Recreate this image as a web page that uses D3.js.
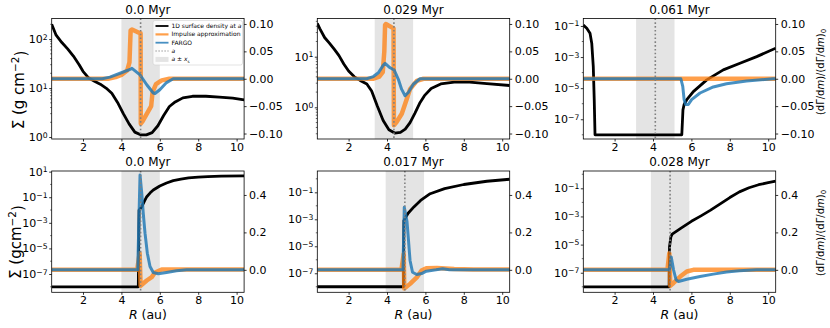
<!DOCTYPE html>
<html><head><meta charset="utf-8">
<script src="https://cdn.jsdelivr.net/npm/d3@7/dist/d3.min.js"></script>
<style>body{margin:0;background:#fff}svg{display:block}text{font-family:"DejaVu Sans",sans-serif;fill:#000}</style>
</head><body><svg id="c" width="830" height="328"></svg>
<script>
// ---------------- data ----------------
const titles = ["0.0 Myr", "0.029 Myr", "0.061 Myr", "0.0 Myr", "0.017 Myr", "0.028 Myr"];
const xTicks = [2, 4, 6, 8, 10];
const aPos   = [5.0, 4.36, 4.12, 5.0, 4.93, 4.89];
const bandLo = [4.0, 3.36, 3.12, 4.0, 3.93, 3.89];
const bandHi = [6.0, 5.36, 5.12, 6.0, 5.93, 5.89];
const rightTicksTop = [-0.10, -0.05, 0.00, 0.05, 0.10];
const rightTicksBottom = [0.0, 0.2, 0.4];
const leftTickExp = [[0, 1, 2], [0, 1], [-7, -5, -3, -1], [-7, -5, -3, -1, 1], [-7, -5, -3, -1], [-7, -5, -3, -1]];

// 1D surface density at a (g cm^-2), [R, Sigma]
const sigma0 = [[0.37,200],[0.6,120],[0.9,85],[1.2,63],[1.5,45],[1.8,30],[2.0,22],[2.3,16],[2.6,13.8],[2.9,12],[3.2,10],[3.5,7.8],[3.8,5.1],[4.1,3.0],[4.4,1.86],[4.7,1.26],[5.0,1.11],[5.3,1.11],[5.6,1.23],[5.9,1.7],[6.2,2.75],[6.5,4.2],[6.8,5.2],[7.2,6.3],[7.7,6.8],[8.4,6.8],[9.1,6.5],[9.8,6.2],[10.39,5.75]];
const sigma1 = [[0.37,45.7],[0.5,36],[0.75,24],[1.0,18.6],[1.25,14.1],[1.5,10.5],[1.75,7.2],[2.0,5.2],[2.3,4.0],[2.6,3.4],[2.95,2.9],[3.2,2.1],[3.5,1.05],[3.8,0.55],[4.1,0.36],[4.4,0.31],[4.7,0.32],[4.95,0.37],[5.2,0.5],[5.45,0.76],[5.7,1.2],[5.95,1.7],[6.3,2.35],[6.8,2.9],[7.5,3.16],[8.3,3.16],[9.2,2.95],[10.39,2.7]];
const sigma2 = [[0.37,0.115],[0.55,0.071],[0.72,0.034],[0.81,7.8e-3],[0.89,2.4e-4],[0.94,1.7e-6],[0.98,1e-8],[5.5,1e-8],[5.56,4e-7],[5.62,8.9e-7],[5.75,1.74e-6],[6.1,6e-6],[6.8,3.4e-5],[7.66,1.5e-4],[8.53,4e-4],[9.4,1.07e-3],[10.39,3.7e-3]];
const sigma3 = [[0.37,1e-8],[4.88,1e-8],[4.92,1e-2],[5.06,1.8e-2],[5.2,0.05],[5.32,0.11],[5.5,0.22],[5.66,0.37],[6.0,0.76],[6.35,1.3],[6.7,2.0],[7.1,2.6],[7.5,3.2],[8.0,3.7],[8.5,4.1],[9.2,4.4],[10.39,4.6]];
const sigma4 = [[0.37,1e-8],[4.86,1e-8],[4.88,7.9e-4],[4.95,1.26e-3],[5.1,2.8e-3],[5.4,8.3e-3],[5.75,0.025],[6.25,0.079],[7.0,0.19],[8.0,0.38],[9.2,0.66],[10.39,0.93]];
const sigma5 = [[0.37,1e-8],[4.84,1e-8],[4.86,7.1e-6],[4.93,3.5e-5],[5.0,5.6e-5],[5.5,1.6e-4],[6.0,4.5e-4],[6.5,1.1e-3],[7.0,2.8e-3],[7.5,7.9e-3],[8.0,0.022],[8.5,0.056],[9.0,0.11],[9.5,0.18],[10.0,0.25],[10.39,0.32]];

// Impulse approximation, [R, (dG/dm)/(dG/dm)_0]
const imp0 = [[0.37,0],[3.3,0],[3.7,0.003],[4.0,0.007],[4.3,0.015],[4.42,0.03],[4.48,0.088],[4.55,0.09],[4.97,0.083],[5.0,0.083],[5.01,-0.082],[5.1,-0.078],[5.55,-0.05],[5.62,-0.025],[5.8,-0.01],[6.1,-0.003],[6.5,0],[10.39,0]];
const imp1 = [[0.37,0],[3.3,0],[3.6,0.004],[3.78,0.012],[3.86,0.05],[3.9,0.098],[3.94,0.1],[4.34,0.092],[4.36,-0.085],[4.5,-0.079],[4.77,-0.064],[5.03,-0.037],[5.2,-0.019],[5.55,-0.004],[5.9,0],[10.39,0]];
const imp2 = [[0.37,0],[10.39,0]];
const imp3 = [[0.37,0],[4.82,0],[4.95,0.089],[5.0,-0.085],[5.32,-0.057],[5.58,-0.039],[5.75,-0.014],[6.1,0.002],[10.39,0.002]];
const imp4 = [[0.37,0],[4.75,0],[4.87,0.085],[4.9,-0.1],[5.2,-0.075],[5.55,-0.04],[5.8,-0.004],[6.05,0.009],[6.6,0.01],[7.5,0.005],[8.5,0.002],[10.39,0.002]];
const imp5 = [[0.37,0],[4.75,0],[4.85,0.089],[4.9,-0.085],[5.07,-0.07],[5.42,-0.036],[5.76,-0.009],[6.1,0],[10.39,0]];

// FARGO, [R, (dG/dm)/(dG/dm)_0]
const fargo0 = [[0.37,0],[3.0,0],[3.4,0.003],[3.93,0.01],[4.45,0.017],[4.55,0.019],[4.97,0.007],[5.32,-0.011],[5.66,-0.026],[5.75,-0.027],[6.0,-0.02],[6.35,-0.007],[6.7,0],[10.39,0]];
const fargo1 = [[0.37,0],[2.94,0],[3.29,0.004],[3.55,0.011],[3.81,0.025],[3.9,0.028],[4.16,0.02],[4.37,0.016],[4.59,-0.001],[4.76,-0.019],[4.94,-0.031],[5.11,-0.025],[5.37,-0.01],[5.72,0],[10.39,0]];
const fargo2 = [[0.37,0],[5.45,0],[5.55,-0.014],[5.62,-0.038],[5.7,-0.047],[5.84,-0.047],[6.01,-0.038],[6.45,-0.026],[7.14,-0.015],[7.83,-0.009],[8.87,-0.004],[10.25,0],[10.39,0]];
const fargo3 = [[0.37,0],[4.85,0],[4.92,0.3],[4.97,0.507],[5.06,0.41],[5.14,0.30],[5.23,0.196],[5.35,0.089],[5.49,0.018],[5.66,-0.014],[5.92,-0.021],[6.35,-0.014],[6.87,-0.005],[7.4,0],[10.39,0]];
const fargo4 = [[0.37,0],[4.83,0],[4.9,0.334],[5.04,0.26],[5.12,0.156],[5.2,0.05],[5.33,-0.013],[5.55,-0.025],[5.8,-0.02],[6.05,-0.007],[6.55,0],[6.9,0.006],[7.25,0],[10.39,0]];
const fargo5 = [[0.37,0],[4.86,0],[4.95,0.068],[5.07,0],[5.2,-0.053],[5.33,-0.062],[5.76,-0.05],[6.45,-0.036],[7.14,-0.023],[7.83,-0.012],[8.5,-0.005],[9.4,0],[10.39,0]];

const sigmas = [sigma0, sigma1, sigma2, sigma3, sigma4, sigma5];
const imps = [imp0, imp1, imp2, imp3, imp4, imp5];
const fargos = [fargo0, fargo1, fargo2, fargo3, fargo4, fargo5];

// ---------------- layout ----------------
const colLeft = [51.7, 317.3, 583.3], pw = 192.4;
const rowTop = [18.5, 171], rowH = [120.5, 121.3];
const xDomain = [0.37, 10.39];
const leftLog = [[-0.04, 2.42], [-0.626, 1.755], [-8.27, -0.52], [-8.43, 1.05], [-8.41, 0.58], [-8.39, 0.23]];
const rightDom = [[-0.11, 0.11], [-0.12, 0.528]];

const svg = d3.select("#c");
const fmtMinus = s => s.replace("-", "\u2212");

function supLabel(sel, base, exp) {
  sel.append("tspan").text(base);
  sel.append("tspan").attr("dy", "-0.45em").attr("font-size", "0.7em").text(fmtMinus(String(exp)));
}

for (let i = 0; i < 6; i++) {
  const row = Math.floor(i / 3), col = i % 3;
  const L = colLeft[col], T = rowTop[row], Hh = rowH[row], R = L + pw, B = T + Hh;
  const x = d3.scaleLinear().domain(xDomain).range([L, R]);
  const yl = d3.scaleLog().domain([10 ** leftLog[i][0], 10 ** leftLog[i][1]]).range([B, T]);
  const yr = d3.scaleLinear().domain(rightDom[row]).range([B, T]);
  const g = svg.append("g");
  const cid = "clip" + i;
  svg.append("clipPath").attr("id", cid).append("rect").attr("x", L).attr("y", T).attr("width", pw).attr("height", Hh);
  const pg = g.append("g").attr("clip-path", `url(#${cid})`);

  // band a ± x_s
  pg.append("rect").attr("x", x(bandLo[i])).attr("width", x(bandHi[i]) - x(bandLo[i]))
    .attr("y", T).attr("height", Hh).attr("fill", "#e4e4e4");

  const lineL = d3.line().x(d => x(d[0])).y(d => yl(d[1]));
  const lineR = d3.line().x(d => x(d[0])).y(d => yr(d[1]));
  pg.append("path").datum(sigmas[i]).attr("d", lineL).attr("fill", "none").attr("stroke", "#000").attr("stroke-width", 2.8).attr("stroke-linejoin", "round");
  pg.append("path").datum(imps[i]).attr("d", lineR).attr("fill", "none").attr("stroke", "#ff7f0e").attr("stroke-opacity", 0.75).attr("stroke-width", 4.5).attr("stroke-linejoin", "round");
  pg.append("path").datum(fargos[i]).attr("d", lineR).attr("fill", "none").attr("stroke", "#1f77b4").attr("stroke-opacity", 0.82).attr("stroke-width", 3).attr("stroke-linejoin", "round");
  // a
  pg.append("line").attr("x1", x(aPos[i])).attr("x2", x(aPos[i])).attr("y1", T).attr("y2", B)
    .attr("stroke", "#808080").attr("stroke-width", 1.6).attr("stroke-dasharray", "1.6,2.2");

  // frame
  g.append("rect").attr("x", L).attr("y", T).attr("width", pw).attr("height", Hh).attr("fill", "none").attr("stroke", "#000").attr("stroke-width", 0.8);

  // x axis
  const xa = g.append("g").attr("transform", `translate(0,${B})`)
    .call(d3.axisBottom(x).tickValues(xTicks).tickSize(2.5).tickPadding(1.5).tickFormat(d3.format("d")));
  xa.select(".domain").remove();
  xa.selectAll("line").attr("stroke-width", 0.8);
  xa.selectAll("text").attr("font-size", 11).attr("font-family", "DejaVu Sans").attr("fill", "#000");

  // left axis (log)
  const exps = leftTickExp[i];
  const la = g.append("g").attr("transform", `translate(${L},0)`)
    .call(d3.axisLeft(yl).tickValues(exps.map(e => 10 ** e)).tickSize(2.5).tickFormat(""));
  la.select(".domain").remove();
  la.selectAll("line").attr("stroke-width", 0.8);
  exps.forEach(e => {
    const t = g.append("text").attr("x", L - 4).attr("y", yl(10 ** e) + 4).attr("text-anchor", "end").attr("font-size", 11);
    supLabel(t, "10", e);
  });
  // minor ticks
  const lo = leftLog[i][0], hi = leftLog[i][1];
  const minors = [];
  const stride = exps.length > 1 ? exps[1] - exps[0] : 1;
  if (stride === 1) {
    for (let d = Math.floor(lo); d <= Math.ceil(hi); d++) for (let k = 2; k <= 9; k++) {
      const v = Math.log10(k) + d; if (v > lo && v < hi) minors.push(10 ** v);
    }
  } else {
    for (let d = Math.floor(lo); d <= Math.ceil(hi); d++) if (!exps.includes(d) && d > lo && d < hi) minors.push(10 ** d);
  }
  g.selectAll(".mn").data(minors).enter().append("line")
    .attr("x1", L).attr("x2", L - 1.5).attr("y1", d => yl(d)).attr("y2", d => yl(d)).attr("stroke", "#000").attr("stroke-width", 0.6);

  // right axis
  const rt = row === 0 ? rightTicksTop : rightTicksBottom;
  const rf = row === 0 ? d3.format(".2f") : d3.format(".1f");
  const ra = g.append("g").attr("transform", `translate(${R},0)`)
    .call(d3.axisRight(yr).tickValues(rt).tickSize(2.5).tickPadding(2.5).tickFormat(d => fmtMinus(rf(d))));
  ra.select(".domain").remove();
  ra.selectAll("line").attr("stroke-width", 0.8);
  ra.selectAll("text").attr("font-size", 11).attr("font-family", "DejaVu Sans").attr("fill", "#000");

  // title
  g.append("text").attr("x", (L + R) / 2).attr("y", T - 5).attr("text-anchor", "middle").attr("font-size", 12).text(titles[i]);

  if (row === 1) {
    const xl = g.append("text").attr("x", (L + R) / 2).attr("y", 318.5).attr("text-anchor", "middle").attr("font-size", 12.5);
    xl.append("tspan").attr("font-style", "italic").text("R");
    xl.append("tspan").text(" (au)");
  }
  if (col === 0) {
    const yt = g.append("text").attr("transform", `translate(${row === 0 ? 24 : 21},${row === 0 ? 90 : 242}) rotate(-90)`)
      .attr("text-anchor", "middle").attr("font-size", 15);
    yt.append("tspan").text(row === 0 ? "\u03A3 (g cm" : "\u03A3 (gcm");
    yt.append("tspan").attr("dy", "-0.45em").attr("font-size", "0.7em").text("\u22122");
    yt.append("tspan").attr("dy", "0.45em").text(")");
  }
  if (col === 2) {
    const yt = g.append("text").attr("transform", `translate(824,${row === 0 ? 72 : 233}) rotate(-90)`)
      .attr("text-anchor", "middle").attr("font-size", 10);
    yt.append("tspan").text("(d\u0393/d");
    yt.append("tspan").attr("font-style", "italic").text("m");
    yt.append("tspan").text(")/(d\u0393/d");
    yt.append("tspan").attr("font-style", "italic").text("m");
    yt.append("tspan").text(")");
    yt.append("tspan").attr("dy", "0.3em").attr("font-size", "0.7em").text("0");
  }

  if (i === 0) {
    const lg = g.append("g");
    lg.append("rect").attr("x", 153).attr("y", 20.5).attr("width", 89.5).attr("height", 44.5).attr("rx", 2)
      .attr("fill", "#fff").attr("fill-opacity", 0.8).attr("stroke", "#d0d0d0").attr("stroke-width", 0.6);
    const ys = [26, 34.4, 42.7, 51, 59.4];
    const sx0 = 155.5, sx1 = 168.5, tx = 171.5;
    lg.append("line").attr("x1", sx0).attr("x2", sx1).attr("y1", ys[0]).attr("y2", ys[0]).attr("stroke", "#000").attr("stroke-width", 1.8);
    lg.append("line").attr("x1", sx0).attr("x2", sx1).attr("y1", ys[1]).attr("y2", ys[1]).attr("stroke", "#ff7f0e").attr("stroke-opacity", 0.75).attr("stroke-width", 2.2);
    lg.append("line").attr("x1", sx0).attr("x2", sx1).attr("y1", ys[2]).attr("y2", ys[2]).attr("stroke", "#1f77b4").attr("stroke-opacity", 0.82).attr("stroke-width", 1.8);
    lg.append("line").attr("x1", sx0).attr("x2", sx1).attr("y1", ys[3]).attr("y2", ys[3]).attr("stroke", "#808080").attr("stroke-width", 1.2).attr("stroke-dasharray", "1.2,1.8");
    lg.append("rect").attr("x", sx0).attr("y", ys[4] - 2.5).attr("width", sx1 - sx0).attr("height", 5).attr("fill", "#e4e4e4");
    const fs = 6;
    let t = lg.append("text").attr("x", tx).attr("y", ys[0] + 2).attr("font-size", fs);
    t.append("tspan").text("1D surface density at "); t.append("tspan").attr("font-style", "italic").text("a");
    lg.append("text").attr("x", tx).attr("y", ys[1] + 2).attr("font-size", fs).text("Impulse approximation");
    lg.append("text").attr("x", tx).attr("y", ys[2] + 2).attr("font-size", fs).text("FARGO");
    lg.append("text").attr("x", tx).attr("y", ys[3] + 2).attr("font-size", fs).attr("font-style", "italic").text("a");
    t = lg.append("text").attr("x", tx).attr("y", ys[4] + 2).attr("font-size", fs);
    t.append("tspan").attr("font-style", "italic").text("a");
    t.append("tspan").text(" \u00B1 ");
    t.append("tspan").attr("font-style", "italic").text("x");
    t.append("tspan").attr("dy", "1.2").attr("font-size", 4).text("s");
  }
}
</script></body></html>
